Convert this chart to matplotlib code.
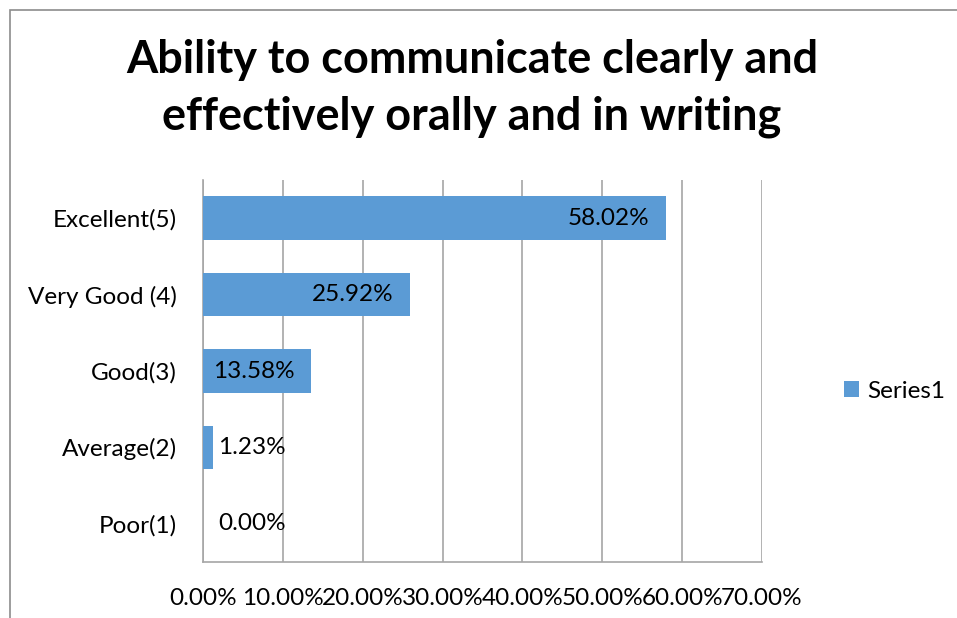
import numpy as np
import matplotlib.pyplot as plt
from matplotlib.patches import Rectangle
from matplotlib.ticker import PercentFormatter

categories = ['Poor(1)', 'Average(2)', 'Good(3)', 'Very Good (4)', 'Excellent(5)']
values = [0.00, 1.23, 13.58, 25.92, 58.02]
x_ticks = [0, 10, 20, 30, 40, 50, 60, 70]
series_name = 'Series1'

bar_color = '#5b9bd5'
grid_color = '#a6a6a6'
font = 'Lato'
fs = 17.5

plt.rcParams['font.family'] = [font, 'DejaVu Sans']

fig = plt.figure(figsize=(9.57, 6.18), dpi=100)
ax = fig.add_axes([203 / 957, 1 - 562 / 618, (762 - 203) / 957, (562 - 180) / 618])

y = np.arange(len(categories))
bars = ax.barh(y, values, height=0.57, color=bar_color, label=series_name, zorder=3)

ax.set_xlim(0, 70)
ax.set_ylim(-0.5, len(categories) - 0.5)
ax.set_xticks(x_ticks)
ax.xaxis.set_major_formatter(PercentFormatter(decimals=2))
ax.set_yticks(y)
ax.set_yticklabels(categories)
ax.tick_params(axis='x', length=0, pad=19, labelsize=fs)
ax.tick_params(axis='y', length=0, pad=19, labelsize=fs)
ax.grid(axis='x', color=grid_color, linewidth=1.2, zorder=0)
for side in ['top', 'right']:
    ax.spines[side].set_visible(False)
for side in ['left', 'bottom']:
    ax.spines[side].set_color(grid_color)
    ax.spines[side].set_linewidth(1.2)

for i, v in enumerate(values):
    label = f'{v:.2f}%'
    if v > 5:
        ax.annotate(label, xy=(v, i), xytext=(-12, 0), textcoords='offset points',
                    ha='right', va='center', fontsize=fs, zorder=4)
    else:
        ax.annotate(label, xy=(0, i), xytext=(11, 0), textcoords='offset points',
                    ha='left', va='center', fontsize=fs, zorder=4)

fig.text(472 / 957, 1 - 39 / 618, 'Ability to communicate clearly and\neffectively orally and in writing',
         ha='center', va='top', fontsize=32.4, fontweight='bold', linespacing=1.43)

leg = fig.legend(handles=[bars], labels=[series_name], loc='center left',
                 bbox_to_anchor=(844 / 957, 1 - 391 / 618), frameon=False,
                 borderpad=0, borderaxespad=0,
                 fontsize=fs, handlelength=0.6, handleheight=0.6, handletextpad=0.35)

fig.patches.append(Rectangle((10 / 957, -0.1), 1.2, 1 - 10 / 618 + 0.1,
                             transform=fig.transFigure, fill=False,
                             edgecolor='#8c8c8c', linewidth=1.2))

fig.savefig('out.png', dpi=100)
